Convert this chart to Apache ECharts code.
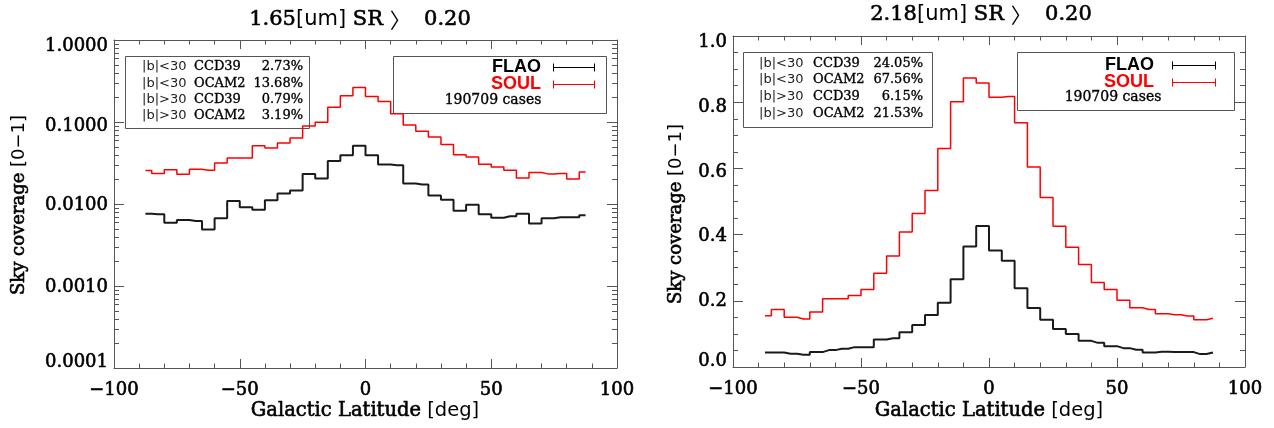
<!DOCTYPE html>
<html>
<head>
<meta charset="utf-8">
<script src="https://cdn.jsdelivr.net/npm/echarts@6/dist/echarts.min.js"></script>
<style>html,body{margin:0;padding:0;background:#fff}#c{width:1274px;height:428px}</style>
</head>
<body>
<div id="c"></div>
<script>
// ---------- data ----------
const latitude = [-87.5,-82.5,-77.5,-72.5,-67.5,-62.5,-57.5,-52.5,-47.5,-42.5,-37.5,-32.5,-27.5,-22.5,-17.5,-12.5,-7.5,-2.5,
                  2.5,7.5,12.5,17.5,22.5,27.5,32.5,37.5,42.5,47.5,52.5,57.5,62.5,67.5,72.5,77.5,82.5,87.5];
const flao165 = [0.0076,0.0075,0.0059,0.0064,0.0062,0.0049,0.0067,0.0109,0.0091,0.0085,0.0111,0.0134,0.0146,0.0233,0.0204,0.0335,0.0393,0.0515,
                 0.0393,0.0303,0.0297,0.0178,0.0173,0.0127,0.0113,0.0083,0.0098,0.0075,0.0068,0.0071,0.0076,0.0058,0.0067,0.0069,0.0069,0.0073];
const soul165 = [0.0256,0.0235,0.0261,0.0231,0.0266,0.0258,0.0317,0.0365,0.0365,0.0515,0.0483,0.0555,0.0638,0.0894,0.0991,0.151,0.209,0.264,
                 0.205,0.178,0.126,0.0919,0.077,0.0657,0.053,0.040,0.0375,0.0306,0.0283,0.0258,0.0208,0.0242,0.0233,0.0235,0.0202,0.0246];
const flao218 = [0.044,0.044,0.040,0.037,0.045,0.051,0.055,0.060,0.060,0.083,0.087,0.105,0.127,0.157,0.194,0.265,0.364,0.426,
                 0.352,0.321,0.238,0.178,0.143,0.115,0.100,0.079,0.073,0.063,0.057,0.052,0.044,0.046,0.045,0.045,0.039,0.044];
const soul218 = [0.155,0.174,0.150,0.145,0.166,0.206,0.206,0.216,0.234,0.283,0.335,0.408,0.464,0.533,0.660,0.801,0.873,0.858,
                 0.815,0.817,0.738,0.604,0.512,0.425,0.362,0.310,0.255,0.234,0.202,0.179,0.174,0.161,0.158,0.154,0.143,0.147];
const seriesNames = ['FLAO','SOUL'];
const casesText = '190709 cases';
const titles = ['1.65', '2.18'];
const srThreshold = '0.20';
const yTitle = ['Sky coverage ', '[0−1]'];
const xTitle = ['Galactic Latitude ', '[deg]'];
const statsRegion = ['|b|<30','|b|<30','|b|>30','|b|>30'];
const statsCamera = ['CCD39','OCAM2','CCD39','OCAM2'];
const stats165 = ['2.73%','13.68%','0.79%','3.19%'];
const stats218 = ['24.05%','67.56%','6.15%','21.53%'];
const xTicks = {min:-100, max:100, interval:50};
const yLogTicks = {min:0.0001, max:1};
const yLinTicks = {min:0, max:1, interval:0.2};

// ---------- styling ----------
const SERIF = '"DejaVu Serif", serif';
const SANS = '"DejaVu Sans", sans-serif';
const AX = '#555';
const G = [
  {left:114, top:40, width:503, height:328},
  {left:733, top:36, width:512, height:331}
];
const heavy = {textBorderColor:'#000', textBorderWidth:0.6};

function sk(s){ return 's' + (s < 0 ? 'm' + (-s) : s); }
function labelShiftStyles() {
  const base = Object.assign({fontFamily: SERIF, fontSize: 18, color: '#000'}, heavy);
  const r = {};
  [-6,-4,-2,0,1,2,3,4,5,6].forEach(s => {
    r[sk(s)] = Object.assign({}, base, {padding: s >= 0 ? [2*s,0,0,0] : [0,0,-2*s,0]});
  });
  return r;
}

function xAxisPair(gi) {
  const common = {
    type:'value', gridIndex:gi, min:xTicks.min, max:xTicks.max, interval:xTicks.interval,
    axisLine:{show:true, onZero:false, lineStyle:{color:AX, width:1}},
    axisTick:{show:true, inside:true, length:9, lineStyle:{color:AX}},
    minorTick:{show:true, splitNumber:5, length:4.5, lineStyle:{color:AX}},
    splitLine:{show:false}
  };
  return [
    Object.assign({}, common, {position:'bottom',
      axisLabel:Object.assign({show:true, margin:13, color:'#000', fontFamily:SERIF, fontSize:18,
        formatter: v => String(v).replace('-', '−')}, heavy)}),
    Object.assign({}, common, {position:'top', axisLabel:{show:false}})
  ];
}

const logShift = {'1':6, '0.1':4, '0.01':1, '0.001':1, '0.0001':-6};
const linShift = {'1':6, '0.8':5, '0.6':4, '0.4':2, '0.2':1, '0':-6};

function yLogPair(gi) {
  const common = {
    type:'log', logBase:10, gridIndex:gi, min:yLogTicks.min, max:yLogTicks.max,
    axisLine:{show:true, onZero:false, lineStyle:{color:AX, width:1}},
    axisTick:{show:true, inside:true, length:10, lineStyle:{color:AX}},
    splitLine:{show:false}
  };
  return [
    Object.assign({}, common, {position:'left',
      axisLabel:{show:true, margin:6, color:'#000', fontFamily:SERIF, fontSize:18,
        rich: labelShiftStyles(),
        formatter: v => { const key = String(+(+v).toPrecision(6)); const s = logShift[key] || 0;
          return '{' + sk(s) + '|' + (+v).toFixed(4) + '}'; }}}),
    Object.assign({}, common, {position:'right', axisLabel:{show:false}})
  ];
}
function yLinPair(gi) {
  const common = {
    type:'value', gridIndex:gi, min:yLinTicks.min, max:yLinTicks.max, interval:yLinTicks.interval,
    axisLine:{show:true, onZero:false, lineStyle:{color:AX, width:1}},
    axisTick:{show:true, inside:true, length:10, lineStyle:{color:AX}},
    minorTick:{show:true, splitNumber:4, length:5, lineStyle:{color:AX}},
    splitLine:{show:false}
  };
  return [
    Object.assign({}, common, {position:'left',
      axisLabel:{show:true, margin:6, color:'#000', fontFamily:SERIF, fontSize:18,
        rich: labelShiftStyles(),
        formatter: v => { const key = String(+(+v).toFixed(1)); const s = linShift[key] || 0;
          return '{' + sk(s) + '|' + (+v).toFixed(1) + '}'; }}}),
    Object.assign({}, common, {position:'right', axisLabel:{show:false}})
  ];
}

// minor ticks of the log axis (2..9 per decade)
const logMinor = [];
for (let e = -4; e <= -1; e++) for (let m = 2; m <= 9; m++) logMinor.push(+(m * Math.pow(10, e)).toPrecision(3));

function stepSeries(name, xi, yi, vals, color, width) {
  return {
    name, type:'line', xAxisIndex:xi, yAxisIndex:yi, step:'middle',
    symbol:'none', showSymbol:false, animation:false,
    lineStyle:{color, width}, itemStyle:{color},
    data: latitude.map((x, i) => [x, vals[i]])
  };
}

// ---------- graphic annotations ----------
function txt(x, y, text, font, fill, align, rich, border) {
  const st = {text, fill: fill || '#000', align: align || 'left', verticalAlign:'middle'};
  if (font) st.font = font;
  if (rich) st.rich = rich;
  if (border) { st.stroke = fill || '#000'; st.lineWidth = border; }
  return {type:'text', x, y, silent:true, style: st};
}
function line(x1, y1, x2, y2, color, w) {
  return {type:'line', silent:true, shape:{x1, y1, x2, y2}, style:{stroke:color, lineWidth:w || 1}};
}
function rect(x, y, w, h) {
  return {type:'rect', silent:true, shape:{x:x+0.5, y:y+0.5, width:w, height:h}, style:{fill:'none', stroke:AX, lineWidth:1}};
}
const richMix = (size) => ({
  s: {fontFamily: SERIF, fontSize: size, fill:'#000', stroke:'#000', lineWidth:0.6},
  n: {fontFamily: SANS, fontSize: size, fill:'#000'},
  j: {fontFamily: '"Noto Sans CJK JP", sans-serif', fontSize: size, fill:'#000'}
});

function panelGraphics(p) {
  const els = [];
  // title
  els.push(txt(p.titleX, p.titleY, '{s|' + p.wl + '}{n|[um]}{s| SR }{j|〉}{s|  ' + srThreshold + '}', null, '#000', 'center', richMix(21)));
  // x axis title
  els.push(txt(p.cx, 411, '{s|' + xTitle[0] + '}{n|' + xTitle[1] + '}', null, '#000', 'center', richMix(19.5)));
  // y axis title
  const yt = txt(p.yTitleX, p.yTitleY, '{s|' + yTitle[0] + '}{n|' + yTitle[1] + '}', null, '#000', 'center', richMix(18));
  yt.rotation = Math.PI / 2;
  els.push(yt);
  // stats box
  els.push(rect(p.sb[0], p.sb[1], p.sb[2], p.sb[3]));
  for (let i = 0; i < 4; i++) {
    const y = p.sy0 + i * p.sdy;
    els.push(txt(p.sx[0], y, statsRegion[i], '13px ' + SANS, '#222', 'left'));
    els.push(txt(p.sx[1], y, statsCamera[i], '13px ' + SERIF, '#000', 'left', null, 0.35));
    els.push(txt(p.sx[2], y, p.stats[i], '13px ' + SERIF, '#000', 'right', null, 0.35));
  }
  // legend box
  els.push(rect(p.lb[0], p.lb[1], p.lb[2], p.lb[3]));
  const cols = ['#000', '#ff0000'];
  for (let i = 0; i < 2; i++) {
    const y = p.ly[i];
    els.push(txt(p.lx, y, seriesNames[i], 'bold 18px "Liberation Sans", sans-serif', cols[i], 'right'));
    els.push(line(p.lineX[0], y + 0.5, p.lineX[1], y + 0.5, cols[i], 1));
    els.push(line(p.lineX[0] + 0.5, y - 3.5, p.lineX[0] + 0.5, y + 4.5, cols[i], 1));
    els.push(line(p.lineX[1] - 0.5, y - 3.5, p.lineX[1] - 0.5, y + 4.5, cols[i], 1));
  }
  els.push(txt(p.casesX, p.casesY, casesText, '14px ' + SERIF, '#000', 'center', null, 0.35));
  return els;
}

const graphics = [].concat(
  panelGraphics({wl: titles[0], titleX:360, titleY:20, cx:365, yTitleX:19, yTitleY:205,
    sb:[125,56,184,72], sx:[142,194,303], sy0:67, sdy:16.2, stats: stats165,
    lb:[393,56,213,57], lx:541, ly:[67,84], lineX:[553,595], casesX:493, casesY:100}),
  panelGraphics({wl: titles[1], titleX:981, titleY:15, cx:989, yTitleX:676, yTitleY:214,
    sb:[743,52,189,75], sx:[759,813,923], sy0:63.5, sdy:16.6, stats: stats218,
    lb:[1017,52,217,58], lx:1154, ly:[65,82], lineX:[1172,1216], casesX:1113, casesY:97})
);

const option = {
  animation:false,
  backgroundColor:'#fff',
  grid: G.map(g => Object.assign({outerBoundsMode:'none', containLabel:false}, g)),
  xAxis: xAxisPair(0).concat(xAxisPair(1)),
  yAxis: yLogPair(0).concat(yLinPair(1)),
  series: [
    {
      type:'custom', xAxisIndex:0, yAxisIndex:0, silent:true, animation:false,
      data: logMinor.map(v => [0, v]), encode:{x:0, y:1},
      renderItem: (params, api) => {
        const y = Math.round(api.coord([0, api.value(1)])[1]) + 0.5;
        const cs = params.coordSys;
        const st = {stroke:AX, lineWidth:1};
        return {type:'group', children:[
          {type:'line', shape:{x1:cs.x, y1:y, x2:cs.x + 5, y2:y}, style:st},
          {type:'line', shape:{x1:cs.x + cs.width - 5, y1:y, x2:cs.x + cs.width, y2:y}, style:st}
        ]};
      }
    },
    stepSeries(seriesNames[0], 0, 0, flao165, '#1a1a1a', 2),
    stepSeries(seriesNames[1], 0, 0, soul165, '#ff0000', 1.5),
    stepSeries(seriesNames[0], 2, 2, flao218, '#1a1a1a', 2),
    stepSeries(seriesNames[1], 2, 2, soul218, '#ff0000', 1.5)
  ],
  graphic: graphics
};
const chart = echarts.init(document.getElementById('c'), null, {renderer:'canvas'});
chart.setOption(option);
</script>
</body>
</html>
